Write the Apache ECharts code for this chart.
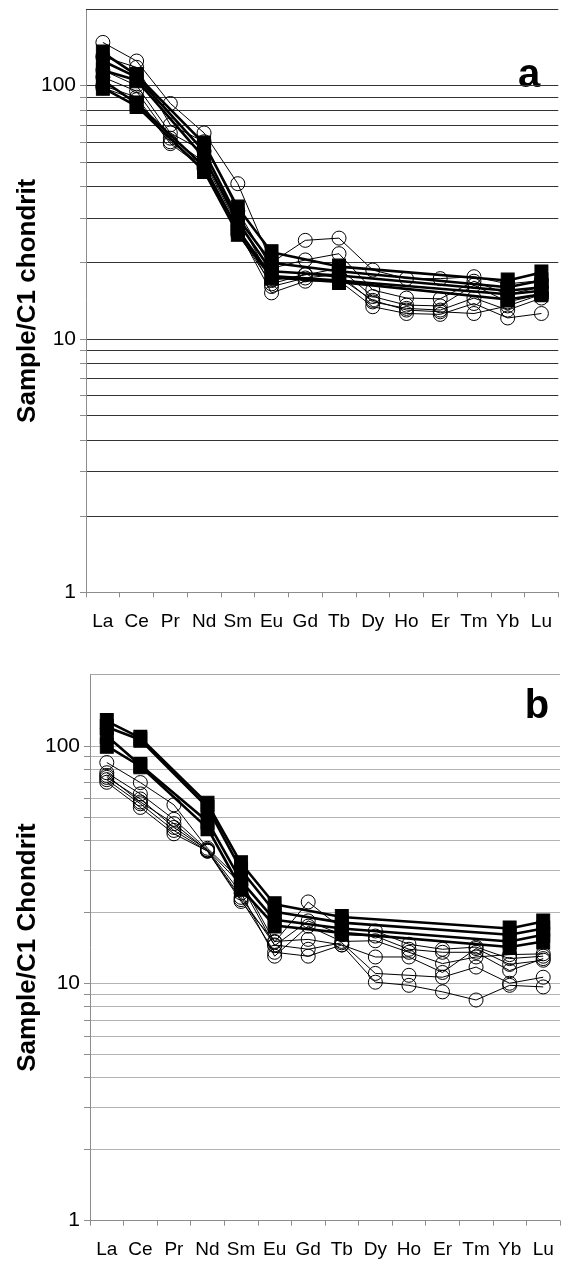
<!DOCTYPE html>
<html>
<head>
<meta charset="utf-8">
<script src="https://cdn.jsdelivr.net/npm/echarts@6/dist/echarts.min.js"></script>
<style>
html,body{margin:0;padding:0;background:#fff;}
#chart{width:564px;height:1263px;}
</style>
</head>
<body>
<div id="chart"></div>
<script>
// ---------- data ----------
const elements = ['La','Ce','Pr','Nd','Sm','Eu','Gd','Tb','Dy','Ho','Er','Tm','Yb','Lu'];
const tickValues = [1,2,3,4,5,6,7,8,9,10,20,30,40,50,60,70,80,90,100];
const labelValues = [1,10,100];
const topValue = 200;

// panel a : filled squares (thick lines)
const aSq1 = [135,110,null,59,33,22,null,19.3,null,null,null,null,17.0,18.3];
const aSq2 = [125,108,null,55,30,20,null,18.5,null,null,null,null,16.0,17.0];
const aSq3 = [115,105,null,52,29,18.5,null,17.8,null,null,null,null,15.5,16.0];
const aSq4 = [105,85,null,48,27,17.7,null,17.0,null,null,null,null,15.0,15.5];
const aSq5 = [98,83,null,46,26,17.5,null,16.8,null,null,null,null,14.3,15.0];
// panel a : open circles (thin lines)
const aCi1 = [148,125,85,65,41,20,24.5,25,18.7,17.3,17.3,17.6,16.5,17.0];
const aCi2 = [130,118,70,60,32,19,20.5,21.7,15.6,14.5,14.4,16.9,15.0,16.0];
const aCi3 = [115,100,65,55,30,17,17.9,19,14.7,13.6,13.5,16.3,14.0,15.0];
const aCi4 = [108,95,62,50,28,16.1,17.4,18,14.0,13.2,13.0,14.5,13.0,14.5];
const aCi5 = [100,90,60,48,27,15.2,16.9,17,13.4,12.6,12.5,13.8,12.1,12.6];
const aCi6 = [98,88,59,47,26,16.5,18,17.5,14.2,13.0,12.8,12.6,13.5,15.0];

// panel b : filled squares
const bSq1 = [127,108,null,57,32,21.5,null,19.0,null,null,null,null,17.0,18.2];
const bSq2 = [120,106,null,55,30,20,null,18.0,null,null,null,null,16.0,17.0];
const bSq3 = [110,83,null,48,27,18.5,null,17.0,null,null,null,null,15.0,16.0];
const bSq4 = [100,82,null,45,25,17.5,null,16.3,null,null,null,null,14.2,15.0];
// panel b : open circles
const bCi1 = [85,70,56.4,37,27,14.9,22,17,16.6,14.6,13.9,14.2,12.7,13.0];
const bCi2 = [77,62.7,49,36.5,26,14.4,18.3,16,15.8,13.9,13.5,13.5,11.3,12.7];
const bCi3 = [73.6,59.7,45.3,36.4,24,13,17.4,15,15.1,13.5,12.1,12.9,13.2,13.3];
const bCi4 = [70.2,55,42.6,36,22.1,15,15.3,14.5,12.9,12.9,11.1,14,12.0,12.5];
const bCi5 = [75,58,47,36.2,23,14.5,13.9,14.8,11.0,10.8,10.6,11.7,10.0,10.6];
const bCi6 = [72,57,44,36,22.5,13.5,13.0,14.5,10.1,9.8,9.2,8.5,9.8,9.65];

const panelASquares = [aSq1,aSq2,aSq3,aSq4,aSq5];
const panelACircles = [aCi1,aCi2,aCi3,aCi4,aCi5,aCi6];
const panelBSquares = [bSq1,bSq2,bSq3,bSq4];
const panelBCircles = [bCi1,bCi2,bCi3,bCi4,bCi5,bCi6];

// ---------- chart ----------
const FONT = 'Liberation Sans, Arial, sans-serif';
const chart = echarts.init(document.getElementById('chart'), null, {renderer:'canvas'});

function xAxisDef(gi){
  return {
    type:'category', gridIndex:gi, data:elements, boundaryGap:true,
    axisLine:{show:true, lineStyle:{color:'#8c8c8c', width:1}},
    axisTick:{show:true, inside:false, length:5, alignWithLabel:false, interval:0, lineStyle:{color:'#8c8c8c'}},
    axisLabel:{interval:0, margin:20, color:'#000', fontSize:19, fontFamily:FONT},
    splitLine:{show:false}
  };
}
function yAxisDef(gi, name, gridColor, gap){
  return {
    type:'log', gridIndex:gi, logBase:10, min:1, max:topValue,
    name:name, nameLocation:'middle', nameRotate:90, nameGap:gap, nameMoveOverlap:false,
    nameTextStyle:{fontSize:26, fontWeight:'bold', color:'#000', fontFamily:FONT},
    axisLine:{show:true, lineStyle:{color:'#8c8c8c', width:1}},
    axisTick:{show:true, inside:false, length:6, customValues:tickValues, lineStyle:{color:'#8c8c8c'}},
    axisLabel:{customValues:labelValues, margin:10, color:'#000', fontSize:21, fontFamily:FONT},
    splitLine:{show:true, lineStyle:{color:gridColor, width:1}}
  };
}
function sqSeries(gi, data){
  return {
    type:'line', xAxisIndex:gi, yAxisIndex:gi, data:data, connectNulls:true,
    symbol:'rect', symbolSize:[13,15], showAllSymbol:true, z:3,
    lineStyle:{color:'#000', width:2.6},
    itemStyle:{color:'#000', borderColor:'#000'},
    emphasis:{disabled:true}, animation:false
  };
}
function ciSeries(gi, data){
  return {
    type:'line', xAxisIndex:gi, yAxisIndex:gi, data:data,
    symbol:'circle', symbolSize:14, showAllSymbol:true, z:2,
    lineStyle:{color:'#000', width:1},
    itemStyle:{color:'rgba(0,0,0,0)', borderColor:'#000', borderWidth:1},
    emphasis:{disabled:true}, animation:false
  };
}
function topLine(gi, color){
  return {
    type:'line', xAxisIndex:gi, yAxisIndex:gi, data:[], silent:true,
    markLine:{silent:true, symbol:['none','none'], label:{show:false},
      lineStyle:{color:color, width:1, type:'solid'}, animation:false,
      data:[{yAxis:topValue}]}
  };
}

const series = [];
panelACircles.forEach(d => series.push(ciSeries(0,d)));
panelASquares.forEach(d => series.push(sqSeries(0,d)));
panelBCircles.forEach(d => series.push(ciSeries(1,d)));
panelBSquares.forEach(d => series.push(sqSeries(1,d)));
series.push(topLine(0,'#333'));
series.push(topLine(1,'#a6a6a6'));

chart.setOption({
  backgroundColor:'#fff',
  animation:false,
  grid:[
    {left:86, top:9.3, width:472.3, height:583, outerBoundsMode:'none', containLabel:false},
    {left:90, top:674.3, width:470, height:546.4, outerBoundsMode:'none', containLabel:false}
  ],
  xAxis:[xAxisDef(0), xAxisDef(1)],
  yAxis:[yAxisDef(0,'Sample/C1 chondrit','#333',45), yAxisDef(1,'Sample/C1 Chondrit','#b3b3b3',49)],
  graphic:[
    {type:'text', x:529, y:96, style:{text:'a', align:'center', verticalAlign:'bottom', textAlign:'center', textVerticalAlign:'bottom', fontSize:40, fontWeight:'bold', fill:'#000', fontFamily:FONT}},
    {type:'text', x:537, y:727, style:{text:'b', align:'center', verticalAlign:'bottom', textAlign:'center', textVerticalAlign:'bottom', fontSize:40, fontWeight:'bold', fill:'#000', fontFamily:FONT}}
  ],
  series:series
});
</script>
</body>
</html>
